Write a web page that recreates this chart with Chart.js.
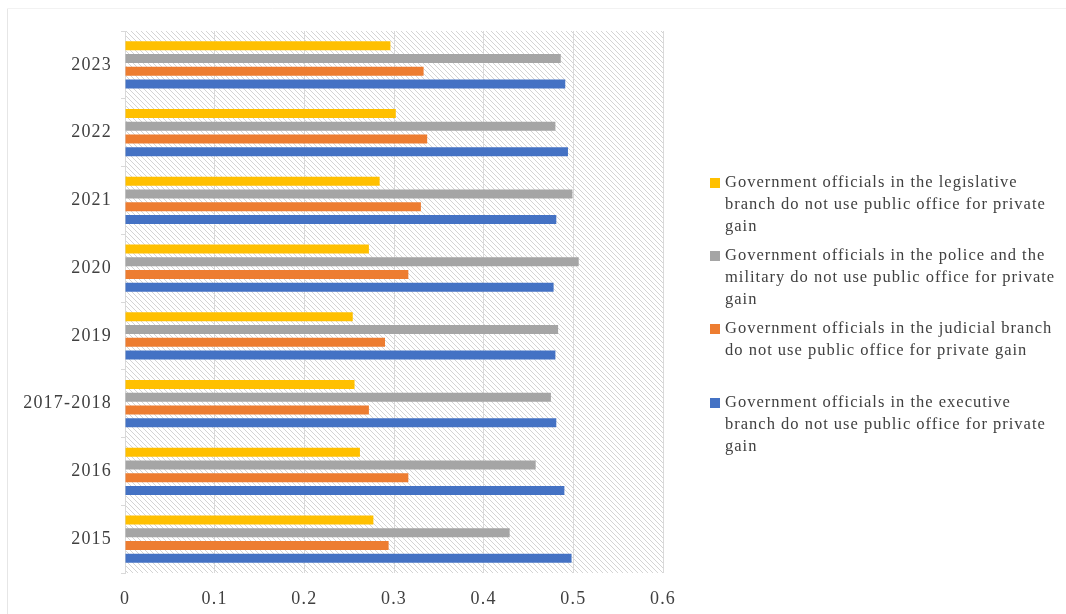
<!DOCTYPE html>
<html>
<head>
<meta charset="utf-8">
<script src="https://cdn.jsdelivr.net/npm/chart.js@4.4.0/dist/chart.umd.min.js"></script>
<style>
  html, body { margin: 0; padding: 0; background: #fff; }
  #wrap { width: 1066px; height: 614px; position: relative; }
</style>
</head>
<body>
<div id="wrap"><canvas id="myChart"></canvas></div>
<script>
// Data
const years = ['2023', '2022', '2021', '2020', '2019', '2017-2018', '2016', '2015'];
const legislative = [0.296, 0.302, 0.284, 0.272, 0.254, 0.256, 0.262, 0.277];
const police = [0.486, 0.480, 0.499, 0.506, 0.483, 0.475, 0.458, 0.429];
const judicial = [0.333, 0.337, 0.330, 0.316, 0.290, 0.272, 0.316, 0.294];
const executive = [0.491, 0.494, 0.481, 0.478, 0.480, 0.481, 0.490, 0.498];
const xTicks = [0, 0.1, 0.2, 0.3, 0.4, 0.5, 0.6];

const legendLines = [
    ['Government officials in the legislative', 'branch do not use public office for private', 'gain'],
    ['Government officials in the police and the', 'military do not use public office for private', 'gain'],
    ['Government officials in the judicial branch', 'do not use public office for private gain'],
    ['Government officials in the executive', 'branch do not use public office for private', 'gain']
];

const serif = '"Liberation Serif", "DejaVu Serif", serif';
const textColor = '#404040';
const gridColor = '#d9d9d9';

// hatch pattern for the plot area
function makeHatch() {
    const size = 5;
    const c = document.createElement('canvas');
    c.width = size;
    c.height = size;
    const g = c.getContext('2d');
    g.fillStyle = '#ffffff';
    g.fillRect(0, 0, size, size);
    g.strokeStyle = '#d4d4d4';
    g.lineWidth = 1;
    g.beginPath();
    g.moveTo(-1, -1); g.lineTo(size + 1, size + 1);
    g.moveTo(-1, size - 1); g.lineTo(1, size + 1);
    g.moveTo(size - 1, -1); g.lineTo(size + 1, 1);
    g.stroke();
    return g.createPattern(c, 'repeat');
}

const backgroundPlugin = {
    id: 'plotBackground',
    beforeLayout(chart) {
        // wider text, closer to the original serif
        chart.ctx.letterSpacing = '1.2px';
    },
    beforeDraw(chart) {
        const { ctx, chartArea } = chart;
        ctx.letterSpacing = '1.2px';
        ctx.save();
        ctx.fillStyle = '#fff';
        ctx.fillRect(0, 0, chart.width, chart.height);
        // chart frame
        ctx.strokeStyle = '#e6e6e6';
        ctx.lineWidth = 1;
        ctx.beginPath();
        ctx.moveTo(7.5, chart.height + 2);
        ctx.lineTo(7.5, 8.5);
        ctx.stroke();
        ctx.strokeStyle = '#f2f2f2';
        ctx.beginPath();
        ctx.moveTo(7.5, 8.5);
        ctx.lineTo(chart.width + 2, 8.5);
        ctx.stroke();
        ctx.fillStyle = makeHatch();
        ctx.fillRect(chartArea.left, chartArea.top, chartArea.right - chartArea.left, chartArea.bottom - chartArea.top);
        ctx.restore();
    }
};

const legendPlugin = {
    id: 'sideLegend',
    afterDraw(chart) {
        const ctx = chart.ctx;
        const x = 710;
        const firstY = [183, 256, 329, 403];
        const lineH = 22;
        ctx.save();
        ctx.font = '16.5px ' + serif;
        ctx.letterSpacing = '1px';
        ctx.textBaseline = 'middle';
        ctx.textAlign = 'left';
        chart.data.datasets.forEach((ds, i) => {
            ctx.fillStyle = ds.backgroundColor;
            ctx.fillRect(x, firstY[i] - 5, 10, 10);
            ctx.fillStyle = textColor;
            legendLines[i].forEach((line, j) => {
                ctx.fillText(line, x + 15, firstY[i] + j * lineH);
            });
        });
        ctx.restore();
    }
};

const ctx = document.getElementById('myChart').getContext('2d');

const myChart = new Chart(ctx, {
    type: 'bar',
    data: {
        labels: years,
        datasets: [
            { label: legendLines[0].join(' '), data: legislative, backgroundColor: '#FFC000' },
            { label: legendLines[1].join(' '), data: police, backgroundColor: '#A5A5A5' },
            { label: legendLines[2].join(' '), data: judicial, backgroundColor: '#ED7D31' },
            { label: legendLines[3].join(' '), data: executive, backgroundColor: '#4472C4' }
        ]
    },
    options: {
        indexAxis: 'y',
        responsive: true,
        maintainAspectRatio: false,
        animation: false,
        categoryPercentage: 0.75,
        barPercentage: 0.7,
        layout: {
            padding: { left: 0, right: 403, top: 31, bottom: 0 }
        },
        scales: {
            x: {
                min: 0,
                max: 0.6,
                afterBuildTicks: (scale) => {
                    scale.ticks = xTicks.map(v => ({ value: v }));
                },
                afterFit: (scale) => { scale.height = 41; },
                ticks: {
                    color: textColor,
                    font: { family: serif, size: 18 },
                    padding: 15,
                    callback: (v) => String(+v.toFixed(1))
                },
                grid: { color: gridColor, drawTicks: false },
                border: { display: false }
            },
            y: {
                afterFit: (scale) => { scale.width = 125; },
                ticks: {
                    color: textColor,
                    font: { family: serif, size: 18 },
                    padding: 9
                },
                grid: { color: gridColor, drawOnChartArea: false, drawTicks: true, tickLength: 4 },
                border: { display: true, color: gridColor }
            }
        },
        plugins: {
            legend: { display: false },
            tooltip: { enabled: false }
        }
    },
    plugins: [backgroundPlugin, legendPlugin]
});
</script>
</body>
</html>
